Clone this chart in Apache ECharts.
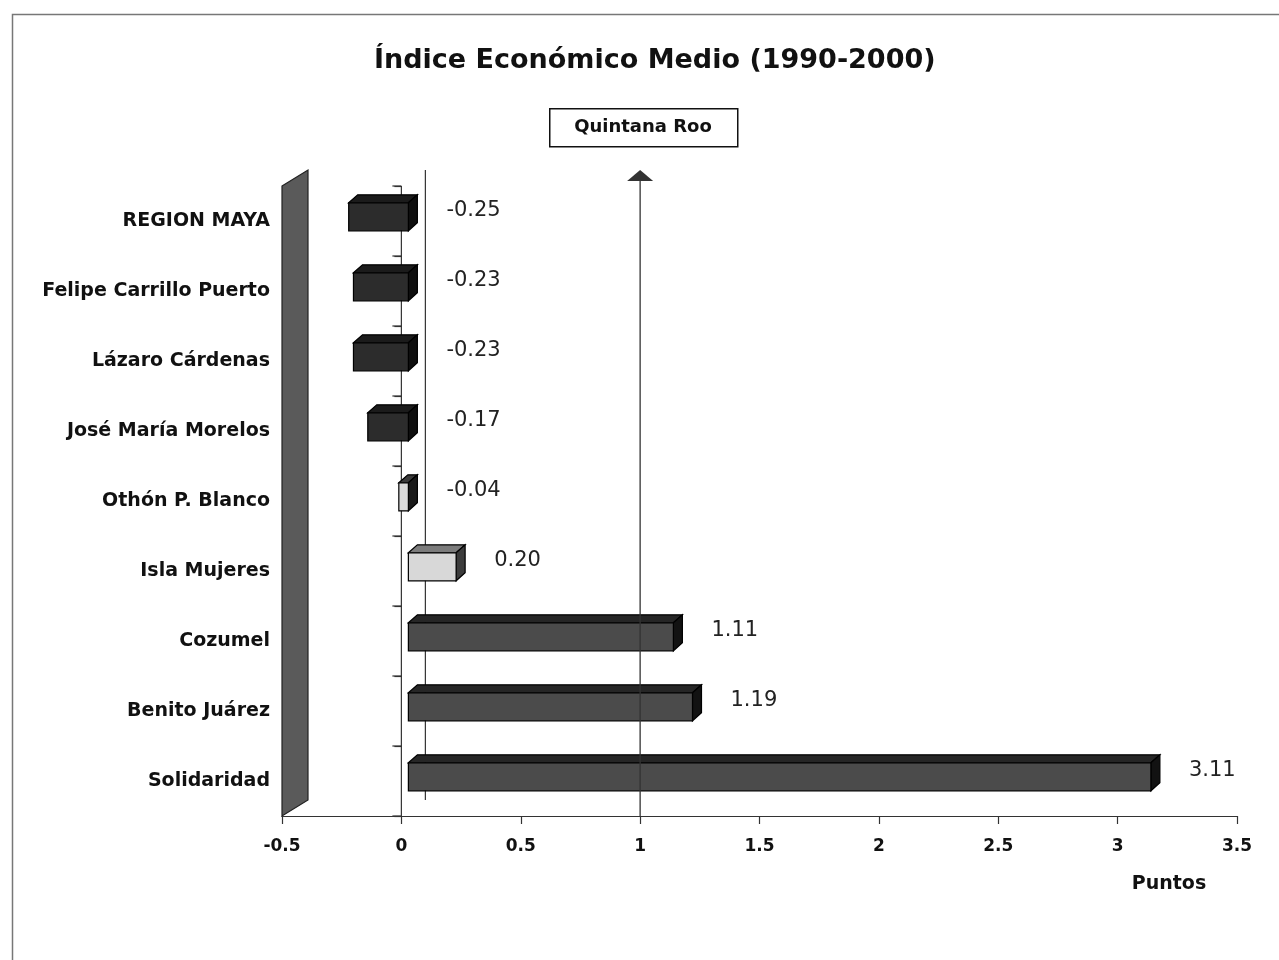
<!DOCTYPE html>
<html>
<head>
<meta charset="utf-8">
<script src="https://cdn.jsdelivr.net/npm/echarts@6/dist/echarts.min.js"></script>
<style>
html,body{margin:0;padding:0;background:#ffffff;}
#chart{width:1279px;height:960px;}
</style>
</head>
<body>
<div id="chart"></div>
<script>
// ---- data ----
const categories = ['REGION MAYA', 'Felipe Carrillo Puerto', 'Lázaro Cárdenas', 'José María Morelos',
  'Othón P. Blanco', 'Isla Mujeres', 'Cozumel', 'Benito Juárez', 'Solidaridad'];
const values = [-0.25, -0.23, -0.23, -0.17, -0.04, 0.20, 1.11, 1.19, 3.11];
const levels = ['bajo', 'bajo', 'bajo', 'bajo', 'medio', 'medio', 'alto', 'alto', 'alto'];
const axisMin = -0.5;
const axisMax = 3.5;
const axisStep = 0.5;
const referenceValue = 1;        // Quintana Roo
const referenceLabel = 'Quintana Roo';
const titleText = 'Índice Económico Medio (1990-2000)';
const xAxisName = 'Puntos';

// ---- styles ----
const FONT = '"DejaVu Sans", "Liberation Sans", Arial, sans-serif';
function faceColors(level, v) {
  if (level === 'alto') return { front: '#4b4b4b', top: '#262626', side: '#121212' };
  if (level === 'medio') {
    if (v < 0) return { front: '#dadada', top: '#3a3a3a', side: '#1a1a1a' };
    return { front: '#d8d8d8', top: '#7c7c7c', side: '#3c3c3c' };
  }
  return { front: '#2c2c2c', top: '#1b1b1b', side: '#0e0e0e' };
}

const chart = echarts.init(document.getElementById('chart'));

function barRender(params, api) {
  const idx = api.value(1);
  const v = api.value(0);
  const band = api.size([0, 1])[1];
  const cy = api.coord([0, idx])[1];
  const bandTop = cy - band / 2;
  const shift = 7;
  const xa = api.coord([Math.min(v, 0), idx])[0] + shift;
  const xb = api.coord([Math.max(v, 0), idx])[0] + shift;
  const yTop = bandTop + band * 0.24;
  const h = band * 0.4;
  const dx = 9, dy = 8;
  const c = faceColors(levels[idx], v);
  const st = { stroke: '#000', lineWidth: 1.2 };
  const lx = api.coord([Math.max(v, 0), idx])[0] + 45;
  return {
    type: 'group',
    children: [
      { type: 'polygon', shape: { points: [[xa, yTop], [xa + dx, yTop - dy], [xb + dx, yTop - dy], [xb, yTop]] },
        style: Object.assign({ fill: c.top }, st) },
      { type: 'polygon', shape: { points: [[xb, yTop], [xb + dx, yTop - dy], [xb + dx, yTop + h - dy], [xb, yTop + h]] },
        style: Object.assign({ fill: c.side }, st) },
      { type: 'rect', shape: { x: xa, y: yTop, width: xb - xa, height: h },
        style: Object.assign({ fill: c.front }, st) },
      { type: 'text', x: lx, y: cy - 10,
        style: { text: v.toFixed(2), fill: '#222', font: '21px ' + FONT, textAlign: 'left', textVerticalAlign: 'middle' } }
    ]
  };
}

function frameRender(params, api) {
  const band = api.size([0, 1])[1];
  const c0 = api.coord([0, 0])[1];
  const top = c0 - band / 2;
  const bottom = top + band * categories.length;
  const xLeft = api.coord([axisMin, 0])[0];
  const xZero = api.coord([0, 0])[0];
  const dx = 26, dy = 16;
  const children = [
    { type: 'polygon', shape: { points: [[xLeft, top], [xLeft + dx, top - dy], [xLeft + dx, bottom - dy], [xLeft, bottom]] },
      style: { fill: '#5a5a5a', stroke: '#222', lineWidth: 1.2 } },
    { type: 'line', shape: { x1: xZero + 24, y1: top - dy, x2: xZero + 24, y2: bottom - dy },
      style: { stroke: '#333', lineWidth: 1.2 } },
    { type: 'line', shape: { x1: xZero, y1: top, x2: xZero, y2: bottom },
      style: { stroke: '#333', lineWidth: 1.2 } }
  ];
  for (let i = 0; i <= categories.length; i++) {
    const y = top + band * i;
    children.push({ type: 'line', shape: { x1: xZero - 9, y1: y, x2: xZero, y2: y }, style: { stroke: '#333', lineWidth: 1.2 } });
  }
  return { type: 'group', children };
}

function arrowRender(params, api) {
  const band = api.size([0, 1])[1];
  const c0 = api.coord([0, 0])[1];
  const top = c0 - band / 2;
  const bottom = top + band * categories.length;
  const x = api.coord([referenceValue, 0])[0];
  return {
    type: 'group',
    children: [
      { type: 'line', shape: { x1: x, y1: bottom, x2: x, y2: top - 6 }, style: { stroke: '#333', lineWidth: 1.3 } },
      { type: 'polygon', shape: { points: [[x, top - 16], [x - 13, top - 5], [x + 13, top - 5]] }, style: { fill: '#333' } }
    ]
  };
}

const option = {
  backgroundColor: '#ffffff',
  animation: false,
  title: {
    text: titleText,
    left: 374, top: 47, padding: 0,
    textStyle: { fontFamily: FONT, fontSize: 27, fontWeight: 'bold', color: '#111' }
  },
  grid: { left: 282, right: 42, top: 186, bottom: 144, containLabel: false },
  xAxis: {
    type: 'value', min: axisMin, max: axisMax, interval: axisStep,
    splitLine: { show: false },
    axisLine: { show: true, onZero: false, lineStyle: { color: '#333', width: 1.2 } },
    axisTick: { show: true, length: 8, lineStyle: { color: '#333', width: 1.2 } },
    axisLabel: { margin: 22, fontFamily: FONT, fontSize: 17, fontWeight: 'bold', color: '#111' }
  },
  yAxis: {
    type: 'category', data: categories, inverse: true,
    axisLine: { show: false },
    axisTick: { show: true, length: 7, lineStyle: { color: '#333', width: 1.2 } },
    axisLabel: { margin: 12, fontFamily: FONT, fontSize: 19, fontWeight: 'bold', color: '#111' }
  },
  graphic: [
    { type: 'rect', left: 10, top: 12, shape: { width: 1290, height: 970 }, style: { fill: 'none', stroke: '#777', lineWidth: 1.5 }, z: -10 },
    { type: 'rect', left: 549, top: 108, shape: { width: 188, height: 38 }, style: { fill: '#fff', stroke: '#111', lineWidth: 1.5 }, z: 10 },
    { type: 'text', x: 643, y: 127, style: { text: referenceLabel, font: 'bold 18px ' + FONT, fill: '#111', textAlign: 'center', textVerticalAlign: 'middle' }, z: 11 },
    { type: 'text', x: 1169, y: 884, style: { text: xAxisName, font: 'bold 19px ' + FONT, fill: '#111', textAlign: 'center', textVerticalAlign: 'middle' }, z: 11 }
  ],
  series: [
    { type: 'custom', name: 'frame', renderItem: frameRender, data: [[0, 0]], clip: false, z: 1, silent: true },
    { type: 'custom', name: 'Índice', renderItem: barRender, encode: { x: 0, y: 1 },
      data: values.map((v, i) => [v, i]), clip: false, z: 2 },
    { type: 'custom', name: 'ref', renderItem: arrowRender, data: [[referenceValue, 0]], clip: false, z: 3, silent: true }
  ]
};
chart.setOption(option);
</script>
</body>
</html>
